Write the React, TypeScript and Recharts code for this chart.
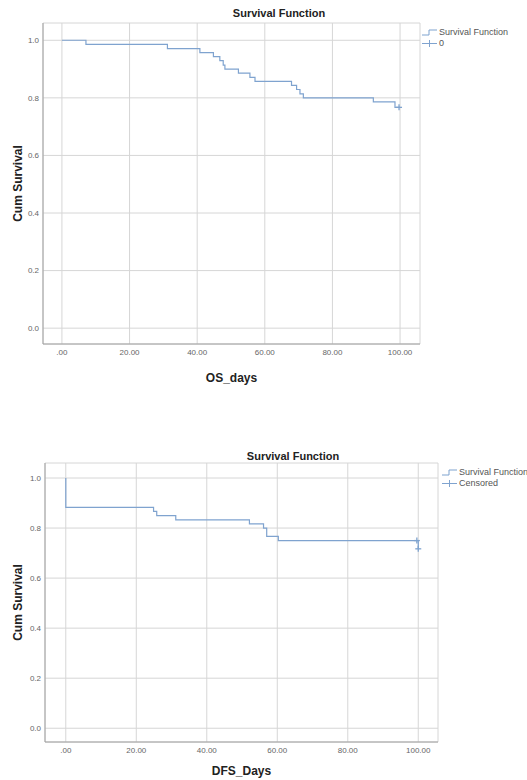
import {
  CartesianGrid,
  ComposedChart,
  Line,
  Scatter,
  XAxis,
  YAxis,
} from "recharts";

// OS curve
const OS_TIMES = [0, 7.1, 31.2, 40.8, 44.8, 46.7, 47.7, 48.2, 52.2, 55.6, 57.1, 67.9, 69.4, 70.4, 71.4, 92.1, 98.5, 100];
const OS_SURVIVAL = [1, 0.986, 0.971, 0.957, 0.943, 0.929, 0.914, 0.9, 0.886, 0.871, 0.857, 0.843, 0.829, 0.814, 0.8, 0.786, 0.767, 0.767];
const OS_CENSORED_TIMES = [99.7];
const OS_CENSORED_SURVIVAL = [0.767];

// DFS curve
const DFS_TIMES = [0, 0, 24.9, 25.8, 31.2, 52.1, 56.1, 57.0, 60.3, 99.7, 100];
const DFS_SURVIVAL = [1, 0.883, 0.867, 0.85, 0.833, 0.817, 0.8, 0.767, 0.75, 0.75, 0.717];
const DFS_CENSORED_TIMES = [99.6, 100];
const DFS_CENSORED_SURVIVAL = [0.75, 0.717];

const X_TICKS = [0, 20, 40, 60, 80, 100];
const Y_TICKS = [0, 0.2, 0.4, 0.6, 0.8, 1.0];

const LINE_COLOR = "#7fa3cf";
const GRID_COLOR = "#d6d6d6";
const AXIS_COLOR = "#a0a0a0";
const FONT = "'Liberation Sans', Arial, sans-serif";

const toPoints = (times: number[], surv: number[]) =>
  times.map((t, i) => ({ t, s: surv[i] }));

const fmtX = (v: number) => (v === 0 ? ".00" : v.toFixed(2));
const fmtY = (v: number) => v.toFixed(1);

const CensorMark = (props: any) => {
  const { cx, cy } = props;
  if (cx == null || cy == null) return <g />;
  return (
    <g stroke={LINE_COLOR} strokeWidth={1.3}>
      <line x1={cx - 3} y1={cy} x2={cx + 3} y2={cy} />
      <line x1={cx} y1={cy - 3} x2={cx} y2={cy + 3} />
    </g>
  );
};

const KmLegend = ({ censorLabel, left, top }: { censorLabel: string; left: number; top: number }) => (
  <div
    style={{
      position: "absolute",
      left,
      top,
      fontFamily: FONT,
      fontSize: 9,
      color: "#555",
      lineHeight: "11px",
    }}
  >
    <div style={{ display: "flex", alignItems: "center", whiteSpace: "nowrap" }}>
      <svg width={17} height={9} style={{ marginRight: 1 }}>
        <polyline points="1,7 8,7 8,2 16,2" fill="none" stroke={LINE_COLOR} strokeWidth={1} />
      </svg>
      Survival Function
    </div>
    <div style={{ display: "flex", alignItems: "center", whiteSpace: "nowrap" }}>
      <svg width={17} height={9} style={{ marginRight: 1 }}>
        <line x1={1} y1={4.5} x2={16} y2={4.5} stroke={LINE_COLOR} strokeWidth={1} />
        <line x1={8.5} y1={1} x2={8.5} y2={8} stroke={LINE_COLOR} strokeWidth={1} />
      </svg>
      {censorLabel}
    </div>
  </div>
);

interface PlotProps {
  top: number;
  width: number;
  height: number;
  marginRight: number;
  yAxisWidth: number;
  xAxisHeight: number;
  xDomain: [number, number];
  xLabel: string;
  xLabelOffset: number;
  curve: { t: number; s: number }[];
  censored: { t: number; s: number }[];
  censorLabel: string;
  legendLeft: number;
  legendTop: number;
  title: string;
  titleCenter: number;
  titleTop: number;
}

const SurvivalPlot = (p: PlotProps) => (
  <div style={{ position: "absolute", left: 0, top: p.top, width: p.width, height: p.height }}>
    <div
      style={{
        position: "absolute",
        left: p.titleCenter - 60,
        width: 120,
        top: p.titleTop,
        textAlign: "center",
        fontFamily: FONT,
        fontWeight: "bold",
        fontSize: 11,
        color: "#222",
      }}
    >
      {p.title}
    </div>
    <ComposedChart
      width={p.width}
      height={p.height}
      margin={{ top: 23, right: p.marginRight, bottom: 0, left: 0 }}
    >
      <CartesianGrid stroke={GRID_COLOR} strokeWidth={1} />
      <XAxis
        type="number"
        dataKey="t"
        domain={p.xDomain}
        ticks={X_TICKS}
        allowDataOverflow
        height={p.xAxisHeight}
        tickFormatter={fmtX}
        tickLine={false}
        tickSize={4}
        tickMargin={1}
        axisLine={{ stroke: AXIS_COLOR }}
        tick={{ fill: "#666", fontSize: 8, fontFamily: FONT }}
        label={{
          value: p.xLabel,
          position: "insideBottom",
          offset: p.xLabelOffset,
          style: { fill: "#222", fontSize: 12, fontWeight: "bold", fontFamily: FONT },
        }}
      />
      <YAxis
        type="number"
        dataKey="s"
        domain={[-0.055, 1.06]}
        ticks={Y_TICKS}
        allowDataOverflow
        width={p.yAxisWidth}
        tickFormatter={fmtY}
        tickLine={false}
        tickSize={4}
        tickMargin={0}
        axisLine={{ stroke: AXIS_COLOR }}
        tick={{ fill: "#666", fontSize: 8, fontFamily: FONT }}
        label={{
          value: "Cum Survival",
          angle: -90,
          position: "insideLeft",
          offset: 18,
          style: { textAnchor: "middle", fill: "#222", fontSize: 12, fontWeight: "bold", fontFamily: FONT },
        }}
      />
      <Line
        data={p.curve}
        dataKey="s"
        type="stepAfter"
        stroke={LINE_COLOR}
        strokeWidth={1.2}
        dot={false}
        isAnimationActive={false}
      />
      <Scatter
        data={p.censored}
        dataKey="s"
        shape={<CensorMark />}
        isAnimationActive={false}
      />
    </ComposedChart>
    <KmLegend censorLabel={p.censorLabel} left={p.legendLeft} top={p.legendTop} />
  </div>
);

export default function App() {
  return (
    <div
      style={{
        position: "absolute",
        left: 0,
        top: 0,
        width: 527,
        height: 780,
        background: "#fff",
        fontFamily: FONT,
      }}
    >
      <SurvivalPlot
        top={0}
        width={527}
        height={390}
        marginRight={107}
        yAxisWidth={43}
        xAxisHeight={46}
        xDomain={[-5.6, 105.9]}
        xLabel="OS_days"
        xLabelOffset={8}
        curve={toPoints(OS_TIMES, OS_SURVIVAL)}
        censored={toPoints(OS_CENSORED_TIMES, OS_CENSORED_SURVIVAL)}
        censorLabel="0"
        legendLeft={421}
        legendTop={27}
        title="Survival Function"
        titleCenter={279}
        titleTop={7}
      />
      <SurvivalPlot
        top={440}
        width={527}
        height={340}
        marginRight={89}
        yAxisWidth={45}
        xAxisHeight={38}
        xDomain={[-5.9, 105.6]}
        xLabel="DFS_Days"
        xLabelOffset={5}
        curve={toPoints(DFS_TIMES, DFS_SURVIVAL)}
        censored={toPoints(DFS_CENSORED_TIMES, DFS_CENSORED_SURVIVAL)}
        censorLabel="Censored"
        legendLeft={441}
        legendTop={27}
        title="Survival Function"
        titleCenter={293}
        titleTop={10}
      />
    </div>
  );
}
